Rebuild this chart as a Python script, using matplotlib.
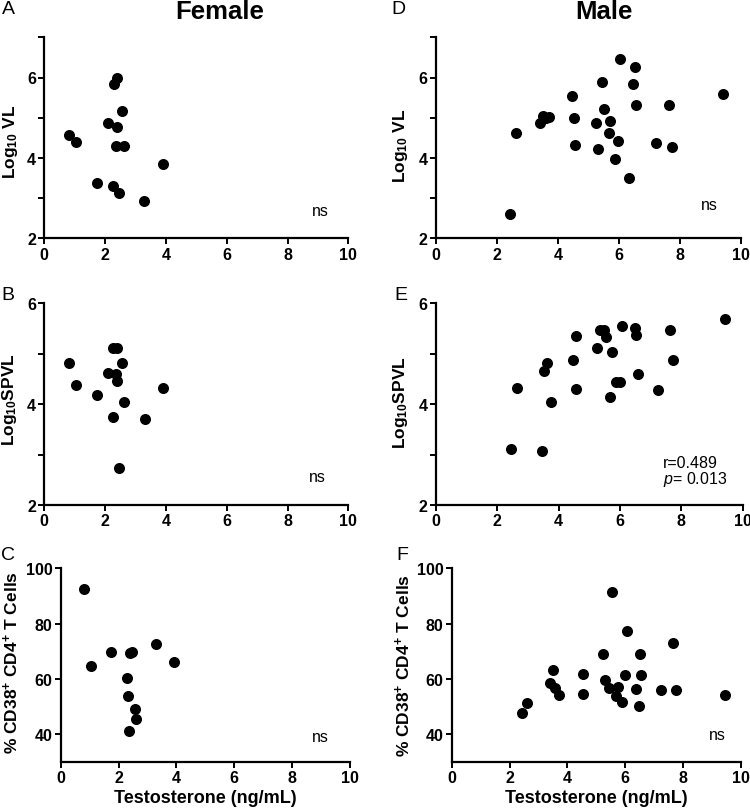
import matplotlib
matplotlib.use("Agg")
import matplotlib.pyplot as plt
from matplotlib.ticker import MultipleLocator

plt.rcParams["font.family"] = ["Liberation Sans", "DejaVu Sans"]
plt.rcParams["mathtext.fontset"] = "custom"
plt.rcParams["mathtext.rm"] = "Liberation Sans"
plt.rcParams["mathtext.bf"] = "Liberation Sans:bold"
plt.rcParams["mathtext.it"] = "Liberation Sans:italic"

# testosterone (ng/mL) vs outcome
fem_vl_x = [0.81, 1.05, 1.74, 2.08, 2.27, 2.30, 2.39, 2.38, 2.35, 2.46, 2.57, 2.62, 3.29, 3.90]
fem_vl_y = [4.56, 4.39, 3.38, 4.88, 3.31, 5.85, 6.00, 4.76, 4.29, 3.12, 5.17, 4.29, 2.92, 3.86]

fem_spvl_x = [0.81, 1.05, 1.74, 2.08, 2.27, 2.40, 2.37, 2.40, 2.57, 2.62, 2.27, 2.46, 3.30, 3.91]
fem_spvl_y = [4.82, 4.37, 4.18, 4.62, 5.11, 5.11, 4.59, 4.45, 4.82, 4.05, 3.75, 2.73, 3.70, 4.33]

fem_cd38_x = [0.81, 1.04, 1.75, 2.28, 2.32, 2.40, 2.46, 2.36, 2.57, 2.62, 3.31, 3.91]
fem_cd38_y = [92.5, 64.8, 69.7, 60.4, 53.7, 69.2, 69.7, 41.1, 49.0, 45.4, 72.6, 66.1]

male_vl_x = [2.44, 2.64, 3.40, 3.52, 3.60, 3.72, 4.45, 4.54, 4.56, 5.24, 5.33, 5.46, 5.53,
             5.72, 5.68, 5.88, 5.98, 6.03, 6.48, 6.52, 6.56, 6.33, 7.23, 7.64, 7.74, 9.43]
male_vl_y = [2.60, 4.63, 4.86, 5.03, 4.99, 5.01, 5.54, 5.00, 4.33, 4.88, 4.23, 5.88, 5.22,
             4.91, 4.63, 3.97, 4.43, 6.46, 5.85, 6.27, 5.32, 3.51, 4.36, 5.31, 4.28, 5.59]

male_spvl_x = [2.46, 2.63, 3.46, 3.53, 3.61, 3.75, 4.47, 4.55, 4.57, 5.25, 5.35, 5.47, 5.53,
               5.73, 5.68, 5.88, 6.00, 6.05, 6.49, 6.53, 6.58, 7.23, 7.63, 7.74, 9.42]
male_spvl_y = [3.11, 4.32, 3.08, 4.66, 4.82, 4.05, 4.88, 5.35, 4.30, 5.11, 5.47, 5.47, 5.33,
               5.04, 4.15, 4.43, 4.43, 5.54, 5.51, 5.37, 4.60, 4.29, 5.48, 4.88, 5.69]

male_cd38_x = [2.44, 2.62, 3.41, 3.50, 3.58, 3.71, 4.54, 4.55, 5.24, 5.31, 5.45, 5.53, 5.68,
               5.74, 5.89, 5.99, 6.05, 6.36, 6.52, 6.49, 6.56, 7.22, 7.65, 7.75, 9.46]
male_cd38_y = [47.7, 51.4, 58.5, 63.2, 56.5, 54.3, 61.9, 54.5, 68.9, 59.7, 56.7, 91.6, 53.7,
               57.1, 51.6, 61.3, 77.4, 56.4, 68.9, 50.2, 61.3, 55.9, 73.1, 56.0, 54.2]

VL_LABEL = r"Log$_{\mathbf{10}}$ VL"
SPVL_LABEL = r"Log$_{\mathbf{10}}$SPVL"
CD38_LABEL = r"% CD38$^{\mathbf{+}}$ CD4$^{\mathbf{+}}$ T Cells"
X_LABEL = "Testosterone (ng/mL)"

W, H = 750, 812


def px_axes(fig, x0, x1, y0, y1):
    """axes from a pixel box (left, right, top, bottom)"""
    return fig.add_axes([x0 / W, 1 - y1 / H, (x1 - x0) / W, (y1 - y0) / H])


def style(ax, ylim, ymajor, yminor=None):
    ax.set_xlim(0, 10)
    ax.set_ylim(*ylim)
    ax.xaxis.set_major_locator(MultipleLocator(2))
    ax.set_yticks(ymajor)
    if yminor:
        ax.set_yticks(yminor, minor=True)
    for s in ("top", "right"):
        ax.spines[s].set_visible(False)
    for s in ("left", "bottom"):
        ax.spines[s].set_linewidth(1.6)
    ax.tick_params(which="both", direction="out", width=1.4, length=4, color="black")
    ax.tick_params(which="major", labelsize=11.5, pad=2)
    for lab in ax.get_xticklabels() + ax.get_yticklabels():
        lab.set_fontweight("bold")


fig = plt.figure(figsize=(W / 100, H / 100), dpi=100)

panels = [
    # x, y, pixel box, ylim, major, minor, ylabel, ylabel centre (px)
    (fem_vl_x, fem_vl_y, (44.3, 348.3, 38.3, 239.3), (2, 7), [2, 4, 6], [3, 5, 7], VL_LABEL, (10, 142)),
    (male_vl_x, male_vl_y, (436, 740.7, 38.3, 239.3), (2, 7), [2, 4, 6], [3, 5, 7], VL_LABEL, (400, 146)),
    (fem_spvl_x, fem_spvl_y, (44.3, 348.3, 304.3, 506), (2, 6), [2, 4, 6], [3, 5], SPVL_LABEL, (10, 400)),
    (male_spvl_x, male_spvl_y, (436, 742.7, 304.3, 506), (2, 6), [2, 4, 6], [3, 5], SPVL_LABEL, (401, 403)),
    (fem_cd38_x, fem_cd38_y, (60.7, 350, 569.3, 762.7), (30, 100), [40, 60, 80, 100], None, CD38_LABEL, (11, 663)),
    (male_cd38_x, male_cd38_y, (451.7, 741, 569.3, 762.7), (30, 100), [40, 60, 80, 100], None, CD38_LABEL, (403, 666)),
]

axes = []
for xs, ys, box, ylim, major, minor, ylab, (lx, ly) in panels:
    ax = px_axes(fig, *box)
    ax.scatter(xs, ys, s=48, color="black", zorder=3, clip_on=False)
    style(ax, ylim, major, minor)
    fig.text(lx / W, 1 - ly / H, ylab, rotation=90, ha="center", va="center",
             fontsize=12.5, fontweight="bold")
    axes.append(ax)

ax_a, ax_d, ax_b, ax_e, ax_c, ax_f = axes

ax_a.text(9.07, 2.68, "ns", ha="center", va="center", fontsize=11.5)
ax_d.text(8.96, 2.85, "ns", ha="center", va="center", fontsize=11.5)
ax_b.text(8.97, 2.56, "ns", ha="center", va="center", fontsize=11.5)
ax_c.text(8.96, 39.3, "ns", ha="center", va="center", fontsize=11.5)
ax_f.text(9.2, 39.7, "ns", ha="center", va="center", fontsize=11.5)
ax_e.text(7.4, 2.85, "r=0.489", ha="left", va="center", fontsize=11.5)
ax_e.text(7.4, 2.52, r"$p$= 0.013", ha="left", va="center", fontsize=11.5)

ax_c.set_xlabel(X_LABEL, fontsize=13, fontweight="bold", labelpad=3)
ax_f.set_xlabel(X_LABEL, fontsize=13, fontweight="bold", labelpad=3)

# column titles
fig.text(220 / W, 1 - 12 / H, "Female", ha="center", va="center", fontsize=18.5, fontweight="bold")
fig.text(604 / W, 1 - 12 / H, "Male", ha="center", va="center", fontsize=18.5, fontweight="bold")

# panel letters
for letter, (px, py) in zip("ABCDEF", [(8, 9), (8, 296), (8, 556), (398, 9), (401, 296), (402, 556)]):
    fig.text(px / W, 1 - py / H, letter, ha="center", va="center", fontsize=14)

fig.savefig("out.png", dpi=100)
